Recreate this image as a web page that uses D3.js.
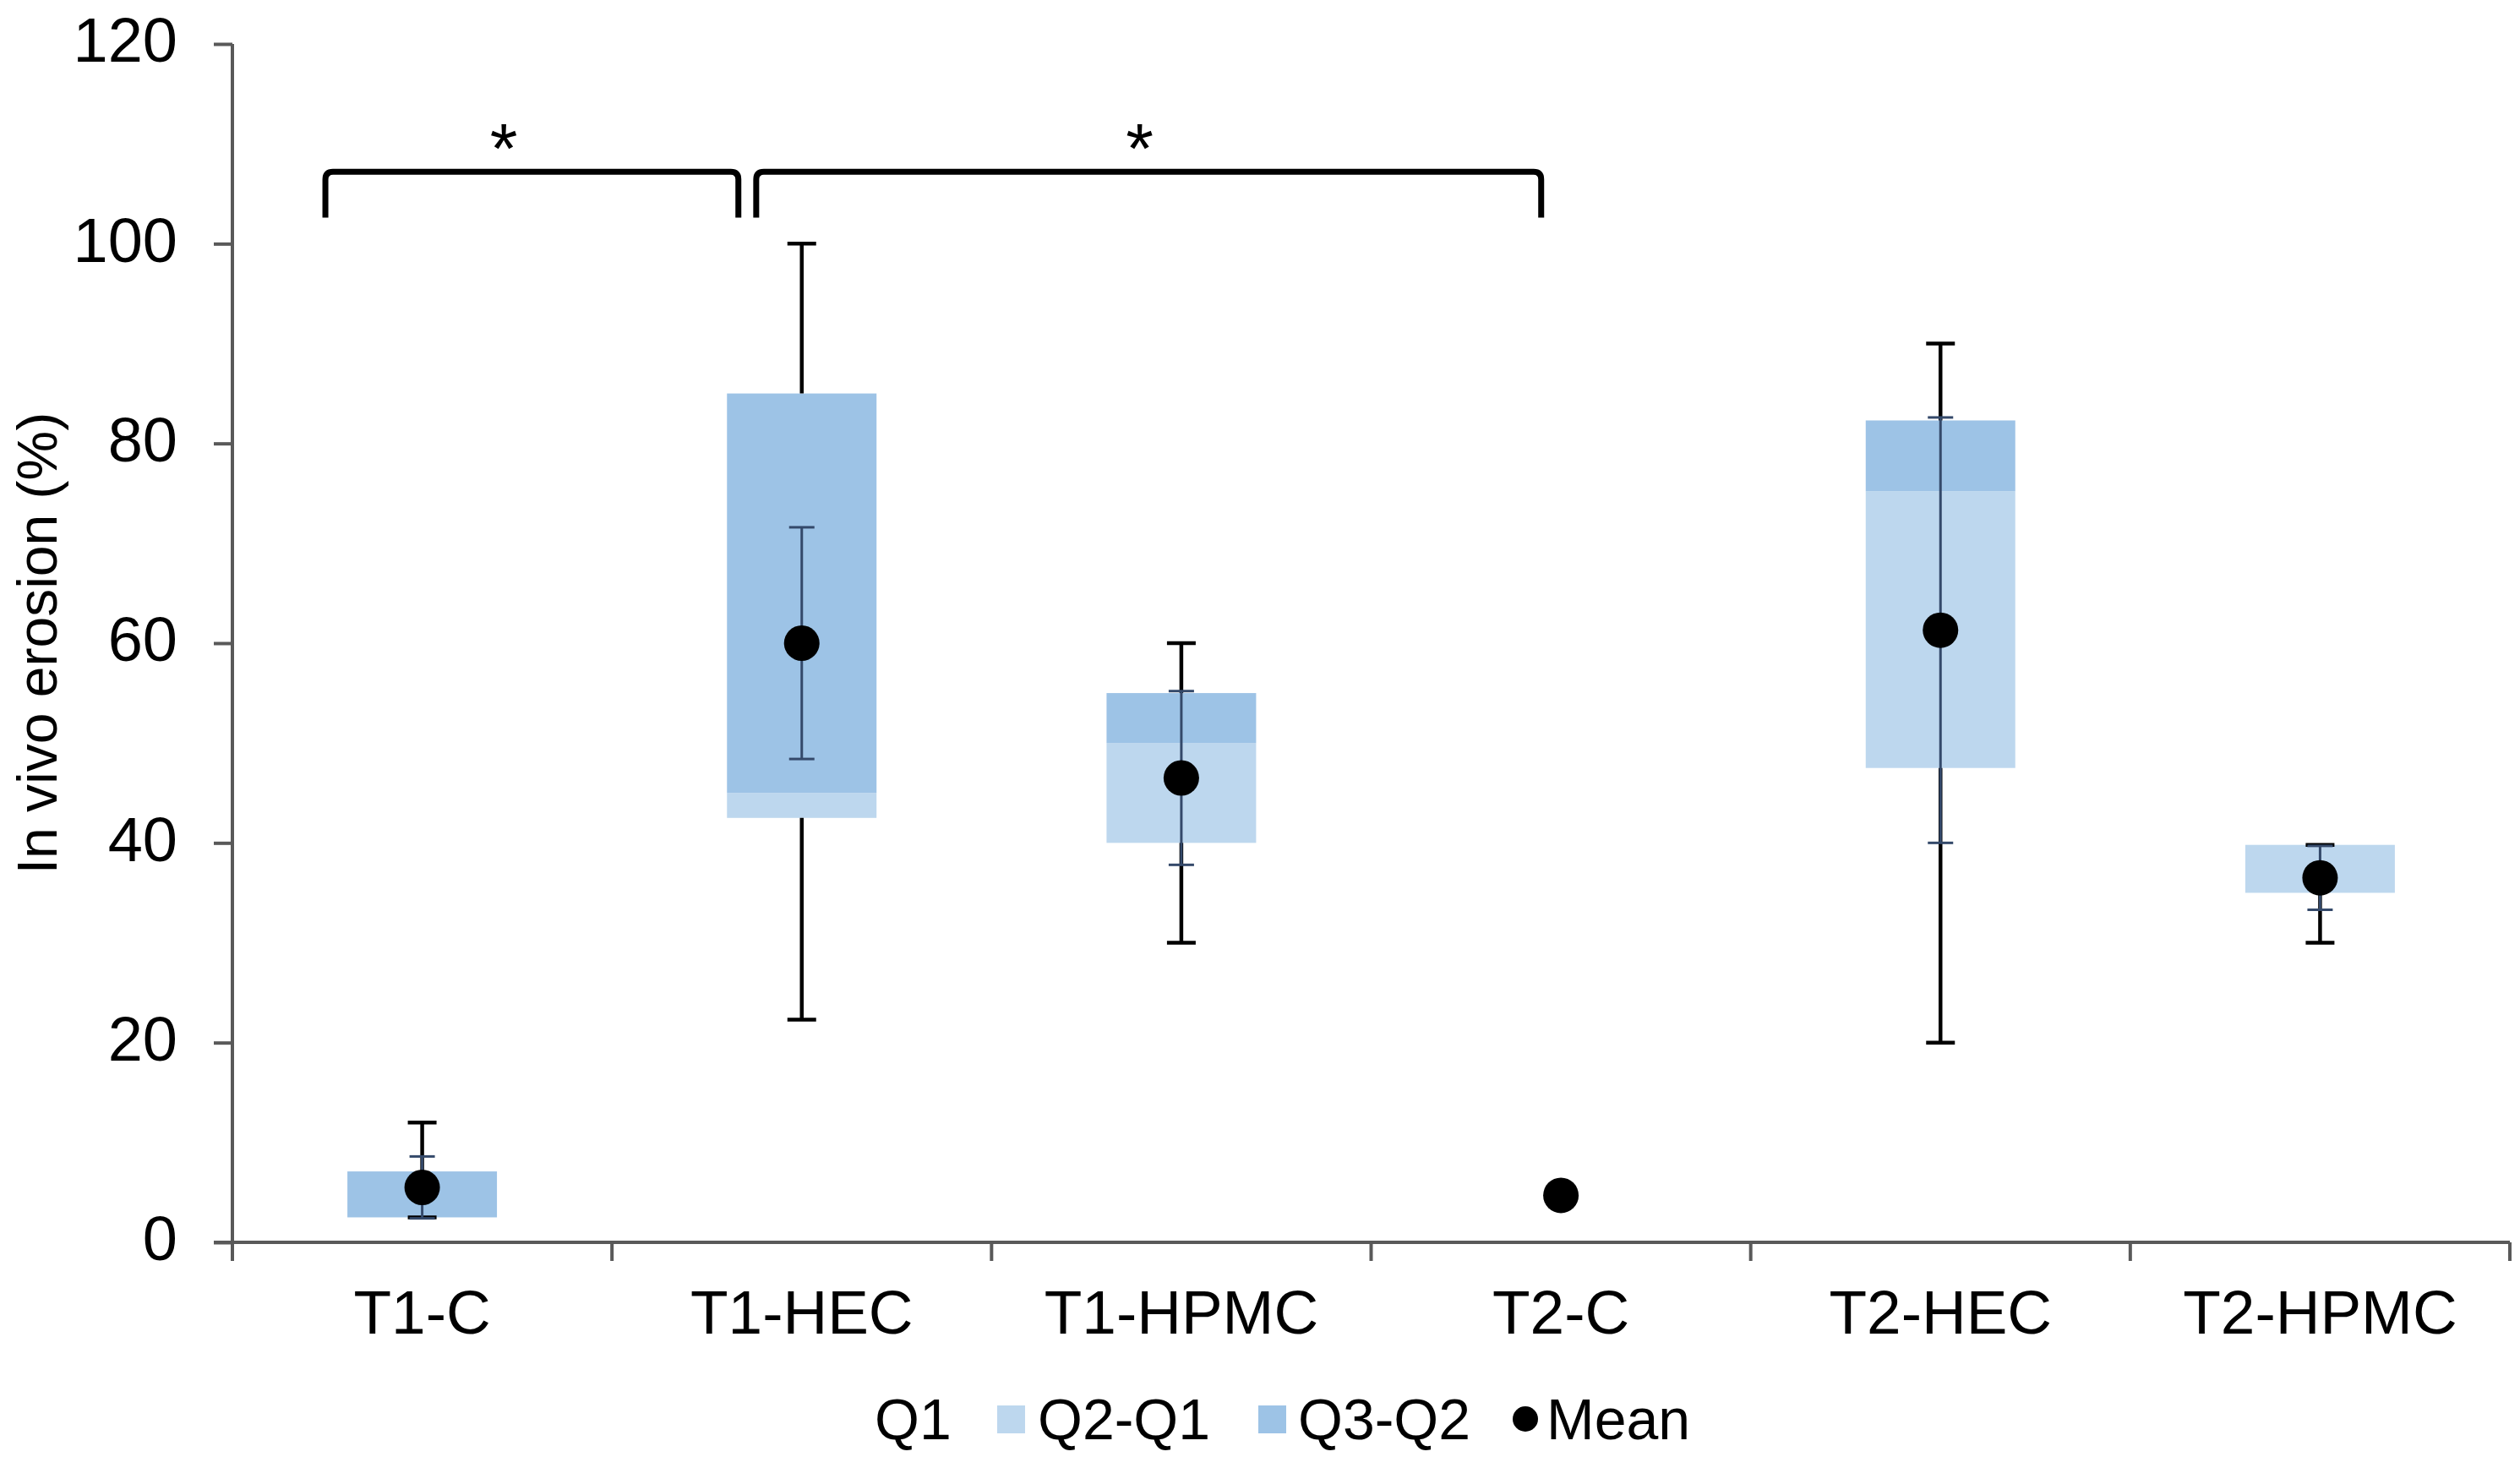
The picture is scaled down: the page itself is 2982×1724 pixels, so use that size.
<!DOCTYPE html>
<html>
<head>
<meta charset="utf-8">
<script src="https://cdn.jsdelivr.net/npm/d3@7"></script>
<style>
  body { margin: 0; background: #fff; }
  text { font-family: "Liberation Sans", Arial, sans-serif; fill: #000; }
</style>
</head>
<body>
<div id="chart"></div>
<script>
// values
const categories = ["T1-C", "T1-HEC", "T1-HPMC", "T2-C", "T2-HEC", "T2-HPMC"];
const q1Vals = [2.5, 42.5, 40, null, 47.5, 35];
const q2Vals = [2.5, 45, 50, null, 75.2, 39.8];
const q3Vals = [7.1, 85, 55, null, 82.3, 39.8];
const minVals = [2.5, 22.3, 30, null, 20, 30];
const maxVals = [12, 100, 60, null, 90, 39.8];
const meanVals = [5.5, 60, 46.5, 4.7, 61.3, 36.5];
const meanSd = [3.1, 11.6, 8.7, null, 21.3, 3.2];
const yTicks = [0, 20, 40, 60, 80, 100, 120];
const legendLabels = ["Q1", "Q2-Q1", "Q3-Q2", "Mean"];

// significance brackets: from/to category + position inside band, top/bottom in data units
const brackets = [
  { from: "T1-C", fromPos: 0.245, to: "T1-HEC", toPos: 0.333, top: 107.2, bottom: 102.6, star: "T1-C", starPos: 0.715 },
  { from: "T1-HEC", fromPos: 0.38, to: "T2-C", toPos: 0.448, top: 107.2, bottom: 102.6, star: "T1-HPMC", starPos: 0.39 }
];

const W = 2982, H = 1724;
const lightBlue = "#bdd7ee", darkBlue = "#9dc3e6", axisGrey = "#595959", sdColor = "#34496a";

const svg = d3.select("#chart").append("svg")
  .attr("width", W).attr("height", H)
  .style("display", "block");
svg.append("rect").attr("width", W).attr("height", H).attr("fill", "#fff");

const x = d3.scaleBand().domain(categories).range([275, 2970]).padding(0);
const y = d3.scaleLinear().domain([0, 120]).range([1470, 52]);
const bw = x.bandwidth();
const cx = (c) => x(c) + bw / 2;
const boxW = bw * 0.394;

const rows = categories.map((c, i) => ({
  cat: c, q1: q1Vals[i], q2: q2Vals[i], q3: q3Vals[i],
  min: minVals[i], max: maxVals[i], mean: meanVals[i], sd: meanSd[i]
}));
const boxes = rows.filter((d) => d.q1 != null);

// Q2-Q1 (light) and Q3-Q2 (dark) stacked pieces
svg.append("g").selectAll("rect")
  .data(boxes.filter((d) => d.q2 > d.q1))
  .join("rect")
  .attr("x", (d) => cx(d.cat) - boxW / 2)
  .attr("width", boxW)
  .attr("y", (d) => y(d.q2))
  .attr("height", (d) => y(d.q1) - y(d.q2))
  .attr("fill", lightBlue);

svg.append("g").selectAll("rect")
  .data(boxes.filter((d) => d.q3 > d.q2))
  .join("rect")
  .attr("x", (d) => cx(d.cat) - boxW / 2)
  .attr("width", boxW)
  .attr("y", (d) => y(d.q3))
  .attr("height", (d) => y(d.q2) - y(d.q3))
  .attr("fill", darkBlue);

// whiskers (black): Q1 -> min and Q3 -> max
const whiskers = [];
boxes.forEach((d) => {
  whiskers.push({ cat: d.cat, a: d.q1, b: d.min });
  whiskers.push({ cat: d.cat, a: d.q3, b: d.max });
});
const wg = svg.append("g").attr("stroke", "#000").attr("stroke-width", 4.5);
wg.selectAll("line.stem").data(whiskers).join("line")
  .attr("class", "stem")
  .attr("x1", (d) => cx(d.cat)).attr("x2", (d) => cx(d.cat))
  .attr("y1", (d) => y(d.a)).attr("y2", (d) => y(d.b));
wg.selectAll("line.cap").data(whiskers).join("line")
  .attr("class", "cap")
  .attr("x1", (d) => cx(d.cat) - 17).attr("x2", (d) => cx(d.cat) + 17)
  .attr("y1", (d) => y(d.b)).attr("y2", (d) => y(d.b));

// mean +/- sd error bars (thin, dark blue-grey)
const sdRows = rows.filter((d) => d.sd != null);
const sg = svg.append("g").attr("stroke", sdColor).attr("stroke-width", 3);
sg.selectAll("line.stem").data(sdRows).join("line")
  .attr("class", "stem")
  .attr("x1", (d) => cx(d.cat)).attr("x2", (d) => cx(d.cat))
  .attr("y1", (d) => y(d.mean - d.sd)).attr("y2", (d) => y(d.mean + d.sd));
sdRows.forEach((d) => {
  [d.mean - d.sd, d.mean + d.sd].forEach((v) => {
    sg.append("line")
      .attr("x1", cx(d.cat) - 15).attr("x2", cx(d.cat) + 15)
      .attr("y1", y(v)).attr("y2", y(v));
  });
});

// mean dots
svg.append("g").selectAll("circle")
  .data(rows)
  .join("circle")
  .attr("cx", (d) => cx(d.cat))
  .attr("cy", (d) => y(d.mean))
  .attr("r", 21)
  .attr("fill", "#000");

// y axis
const yAxis = svg.append("g")
  .attr("transform", "translate(275,0)")
  .call(d3.axisLeft(y).tickValues(yTicks).tickSize(22).tickPadding(43));
yAxis.select(".domain").attr("stroke", axisGrey).attr("stroke-width", 4)
  .attr("d", `M0,${y(120)}V${y(0) + 22}`);
yAxis.selectAll(".tick line").attr("stroke", axisGrey).attr("stroke-width", 4);
yAxis.selectAll(".tick text")
  .style("font-size", "74px")
  .style("font-family", '"Liberation Sans", Arial, sans-serif')
  .attr("dy", "0.28em")
  .attr("fill", "#000");

// x axis (labels), with ticks at band boundaries
const xAxis = svg.append("g")
  .attr("transform", `translate(0,${y(0)})`)
  .call(d3.axisBottom(x).tickSize(0).tickPadding(56));
xAxis.select(".domain").attr("stroke", axisGrey).attr("stroke-width", 4)
  .attr("d", `M253,0H${x.range()[1]}`);
xAxis.selectAll(".tick text")
  .style("font-size", "73px")
  .style("font-family", '"Liberation Sans", Arial, sans-serif')
  .attr("fill", "#000");
const edges = categories.map((c) => x(c)).concat([x.range()[1]]);
xAxis.selectAll("line.edge").data(edges).join("line")
  .attr("class", "edge")
  .attr("x1", (d) => d).attr("x2", (d) => d)
  .attr("y1", 0).attr("y2", 22)
  .attr("stroke", axisGrey).attr("stroke-width", 4);

// y axis title
svg.append("text")
  .attr("transform", `translate(67,${(y(0) + y(120)) / 2}) rotate(-90)`)
  .attr("text-anchor", "middle")
  .style("font-size", "66px")
  .text("In vivo erosion (%)");

// significance brackets
const bg = svg.append("g");
brackets.forEach((b) => {
  const x0 = x(b.from) + b.fromPos * bw;
  const x1 = x(b.to) + b.toPos * bw;
  const yt = y(b.top), yb = y(b.bottom), r = 9;
  bg.append("path")
    .attr("d", `M${x0},${yb}V${yt + r}Q${x0},${yt} ${x0 + r},${yt}H${x1 - r}Q${x1},${yt} ${x1},${yt + r}V${yb}`)
    .attr("fill", "none")
    .attr("stroke", "#000")
    .attr("stroke-width", 7);
  bg.append("text")
    .attr("x", x(b.star) + b.starPos * bw)
    .attr("y", y(b.top) + 2)
    .attr("text-anchor", "middle")
    .style("font-size", "84px")
    .text("*");
});

// legend
const legend = svg.append("g").attr("transform", "translate(0,1703)");
const legItems = [
  { label: legendLabels[0], type: "none", sx: 1035, tx: 1035 },
  { label: legendLabels[1], type: "rect", fill: lightBlue, sx: 1180, tx: 1228 },
  { label: legendLabels[2], type: "rect", fill: darkBlue, sx: 1489, tx: 1536 },
  { label: legendLabels[3], type: "dot", sx: 1805, tx: 1830 }
];
legItems.forEach((it) => {
  if (it.type === "rect") {
    legend.append("rect")
      .attr("x", it.sx).attr("y", -40)
      .attr("width", 33).attr("height", 33)
      .attr("fill", it.fill);
  } else if (it.type === "dot") {
    legend.append("circle")
      .attr("cx", it.sx).attr("cy", -24).attr("r", 15)
      .attr("fill", "#000");
  }
  legend.append("text")
    .attr("x", it.tx).attr("y", 0)
    .style("font-size", "68px")
    .text(it.label);
});
</script>
</body>
</html>
